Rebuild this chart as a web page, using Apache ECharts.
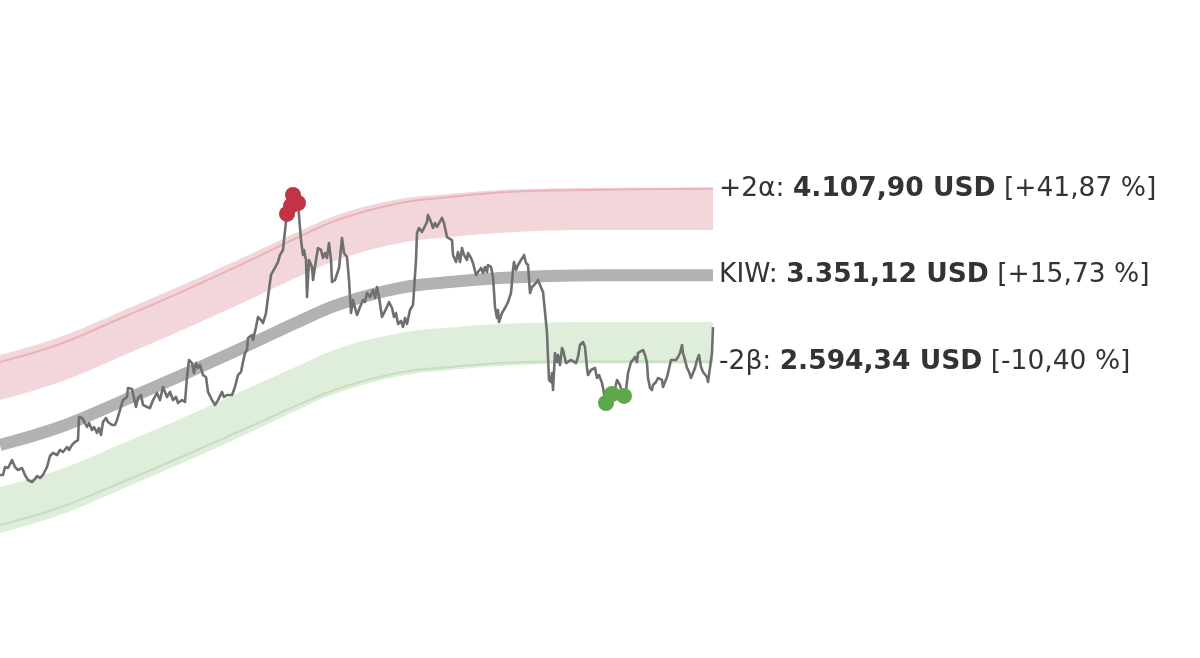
<!DOCTYPE html>
<html>
<head>
<meta charset="utf-8">
<script src="https://cdn.jsdelivr.net/npm/echarts/dist/echarts.min.js"></script>
<style>
html,body{margin:0;padding:0;background:#fff;}
#chart{width:1200px;height:658px;}
</style>
</head>
<body>
<div id="chart"></div>
<script>
// ---- Data (x = day index, y = USD) ----
const curveX = [0, 60, 120, 180, 240, 300, 340, 400, 450, 500, 550, 600, 713];
const kiw = [1865, 2022, 2241, 2469, 2705, 2950, 3099, 3239, 3291, 3326, 3344, 3350, 3351.12];
const upperLine = [2591, 2749, 2972, 3199, 3440, 3690, 3843, 3983, 4035, 4075, 4092, 4100, 4107.90];
const upperTop = [2652, 2810, 3029, 3256, 3493, 3738, 3887, 4018, 4062, 4097, 4110, 4114, 4118];
const upperBottom = [2259, 2416, 2635, 2862, 3099, 3344, 3493, 3633, 3685, 3720, 3742, 3747, 3747];
const lowerTop = [1497, 1650, 1869, 2092, 2328, 2565, 2714, 2845, 2893, 2924, 2937, 2941, 2941];
const lowerLine = [1164, 1317, 1532, 1755, 1987, 2223, 2364, 2499, 2547, 2582, 2596, 2595, 2594.34];
const lowerBottom = [1094, 1252, 1471, 1698, 1935, 2180, 2328, 2469, 2521, 2556, 2574, 2578, 2578];

const priceX = [0,3,5,8,12,15,18,22,25,28,32,35,37,40,43,47,50,53,57,60,63,67,69,72,75,78,79,82,85,87,89,92,94,97,99,101,103,106,108,112,115,117,120,123,127,128,132,134,136,138,141,143,147,150,153,157,160,163,167,170,173,176,178,182,185,187,189,192,194,196,198,200,203,206,208,212,215,218,222,224,227,232,235,238,241,243,245,247,248,252,253,256,258,261,263,266,268,271,273,276,278,280,283,284,286,287,291,293,298,301,303,304,306,307,309,312,313,316,318,321,323,325,327,329,331,332,335,337,339,342,344,347,349,351,353,355,357,360,363,365,367,370,373,375,377,379,382,384,387,389,392,394,396,398,401,403,405,407,410,413,414,416,417,419,422,424,427,428,431,433,435,437,439,442,444,447,449,452,453,456,458,460,462,464,467,468,471,473,476,478,481,483,485,487,488,491,493,495,497,498,499,502,505,508,511,513,514,516,518,521,523,524,526,528,530,532,534,536,538,540,543,545,547,548,549,551,552,553,555,557,558,560,562,563,566,568,571,573,576,578,580,583,585,587,588,591,593,595,597,599,602,606,612,615,617,620,622,624,626,628,631,633,635,637,638,640,643,645,647,648,650,652,653,656,658,660,662,663,665,667,668,670,671,673,676,678,680,682,683,685,687,689,691,693,695,697,699,701,703,705,707,708,710,712,713];
const priceY = [1602,1602,1672,1663,1733,1672,1646,1663,1602,1558,1541,1567,1593,1576,1602,1672,1768,1795,1777,1821,1803,1847,1821,1865,1891,1908,2110,2101,2057,2022,2057,1996,2022,1970,2013,1952,2066,2101,2066,2040,2040,2083,2171,2258,2285,2364,2355,2364,2197,2276,2302,2215,2197,2188,2258,2320,2258,2372,2285,2329,2258,2285,2232,2258,2241,2460,2609,2582,2495,2582,2539,2565,2477,2460,2329,2258,2215,2258,2329,2285,2302,2302,2372,2477,2504,2591,2670,2696,2801,2827,2784,2898,2985,2959,2932,3020,3160,3353,3370,3432,3467,3528,3572,3659,3817,3887,3957,4053,3983,3659,3528,3572,3484,3160,3484,3423,3309,3484,3589,3572,3502,3545,3502,3633,3484,3291,3309,3326,3414,3677,3545,3510,3309,3020,3134,3064,3003,3073,3134,3116,3195,3160,3221,3151,3248,3160,2985,2976,3073,3116,3064,2985,3020,2924,2950,2898,2976,2924,3046,3090,3073,3484,3720,3764,3729,3764,3817,3878,3817,3764,3808,3773,3790,3852,3808,3685,3685,3659,3528,3467,3554,3467,3589,3528,3484,3545,3502,3458,3353,3379,3414,3370,3423,3379,3440,3423,3335,3073,2976,3046,2941,3020,3064,3116,3195,3396,3467,3396,3440,3484,3510,3528,3458,3440,3195,3248,3239,3283,3309,3265,3204,3029,2845,2635,2434,2416,2495,2346,2670,2591,2652,2565,2714,2696,2582,2591,2609,2626,2582,2635,2740,2766,2722,2539,2477,2521,2504,2539,2451,2477,2407,2232,2311,2355,2434,2390,2320,2294,2346,2495,2591,2609,2635,2591,2670,2679,2696,2652,2582,2451,2364,2346,2390,2416,2451,2434,2434,2372,2416,2460,2495,2486,2609,2617,2609,2635,2670,2740,2670,2609,2539,2504,2451,2495,2539,2609,2652,2547,2504,2495,2460,2416,2416,2670,2896];

const highX = [287, 291, 293, 298];
const lowX = [606, 612, 624];

const labelNames = ['+2α', 'KIW', '-2β'];
const labelPct = ['+41,87 %', '+15,73 %', '-10,40 %'];

// ---- Helpers ----
function pairs(xs, ys) { return xs.map((x, i) => [x, ys[i]]); }
function fmt(v) {
  const parts = v.toFixed(2).split('.');
  return parts[0].replace(/\B(?=(\d{3})+(?!\d))/g, '.') + ',' + parts[1];
}
function pick(xs) { return xs.map(x => [x, priceY[priceX.indexOf(x)]]); }
const FS = 26.5;
function endLab(i, arr) {
  return {
    show: true,
    distance: 6,
    color: '#333333',
    fontFamily: 'DejaVu Sans',
    fontSize: FS,
    formatter: () => '{n|' + labelNames[i] + ': }{b|' + fmt(arr[arr.length - 1]) + ' USD}{n| [' + labelPct[i] + ']}',
    rich: {
      n: { fontFamily: 'DejaVu Sans', fontSize: FS, color: '#333333' },
      b: { fontFamily: 'DejaVu Sans', fontSize: FS, color: '#333333', fontWeight: 'bold' }
    }
  };
}
const hidden = { opacity: 0, width: 0 };
const SM = 0.4;
// band: fill from the outer edge down, then a white mask from the inner edge down
function areaSeries(ys, color) {
  return { type: 'line', data: pairs(curveX, ys), symbol: 'none', smooth: SM, lineStyle: hidden,
    areaStyle: { color: color, opacity: 1, origin: 'start' }, silent: true, z: 1 };
}

const chart = echarts.init(document.getElementById('chart'), null, { renderer: 'canvas' });
chart.setOption({
  animation: false,
  backgroundColor: '#ffffff',
  grid: { left: 0, right: 487, top: 0, bottom: 0 },
  xAxis: { type: 'value', min: 0, max: 713, show: false },
  yAxis: { type: 'value', min: 0, max: 5760, show: false },
  series: [
    areaSeries(upperTop, '#f2d6d9'),
    areaSeries(upperBottom, '#ffffff'),
    areaSeries(lowerTop, '#deeeda'),
    areaSeries(lowerBottom, '#ffffff'),
    { type: 'line', data: pairs(curveX, upperLine), symbol: 'none', smooth: SM,
      lineStyle: { color: '#e8b3b9', width: 2 }, endLabel: endLab(0, upperLine), z: 2 },
    { type: 'line', data: pairs(curveX, lowerLine), symbol: 'none', smooth: SM,
      lineStyle: { color: '#c4dfbd', width: 2 }, endLabel: endLab(2, lowerLine), z: 2 },
    { type: 'line', data: pairs(curveX, kiw), symbol: 'none', smooth: SM,
      lineStyle: { color: '#b2b2b2', width: 12, cap: 'butt' }, endLabel: endLab(1, kiw), z: 3 },
    { type: 'line', data: pairs(priceX, priceY), symbol: 'none',
      lineStyle: { color: '#6f6f6f', width: 2.6, join: 'round' }, z: 4 },
    { type: 'scatter', data: pick(highX), symbolSize: 16, itemStyle: { color: '#c23443', opacity: 1 }, z: 5 },
    { type: 'scatter', data: pick(lowX), symbolSize: 16, itemStyle: { color: '#5ea74b', opacity: 1 }, z: 5 }
  ]
});
</script>
</body>
</html>
